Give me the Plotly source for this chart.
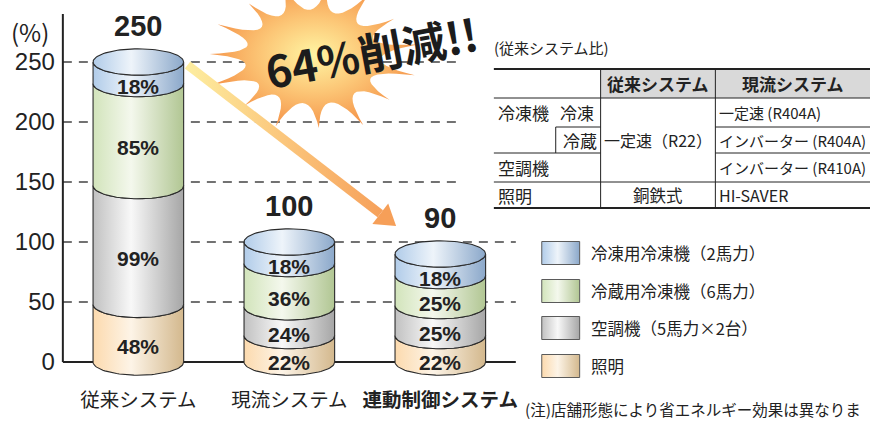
import numpy as np
import plotly.graph_objects as go

W, H = 872, 423

# ---------------- data ----------------
categories = ["従来システム", "現流システム", "<b>連動制御システム</b>"]
lighting = [48, 22, 22]            # 照明
aircon = [99, 24, 25]              # 空調機（5馬力×2台）
refrigeration = [85, 36, 25]       # 冷蔵用冷凍機（6馬力）
freezer = [18, 18, 18]             # 冷凍用冷凍機（2馬力）
totals = [a + b + c + d for a, b, c, d in zip(lighting, aircon, refrigeration, freezer)]
y_ticks = [0, 50, 100, 150, 200, 250]
y_tick_text = ["0", "50", "100", "150", "200", "250"]

legend_names = ["冷凍用冷凍機（2馬力）", "冷蔵用冷凍機（6馬力）", "空調機（5馬力×2台）", "照明"]
burst_text = "64%削減!!"
table_caption = "(従来システム比)"
table_header = ["従来システム", "現流システム"]
table_rows_left = ["冷凍機", "冷凍", "冷蔵", "空調機", "照明"]
table_old = ["一定速（R22）", "銅鉄式"]
table_new = ["一定速 (R404A)", "インバーター (R404A)", "インバーター (R410A)", "HI-SAVER"]
note_text = "(注)店舗形態により省エネルギー効果は異なりま"

# ---------------- styling ----------------
C_BLUE = ("#b1cce9", "#eef4fa", "#8ba8ca")
C_GREEN = ("#d2e4bb", "#f4f8ed", "#b1c693")
C_GRAY = ("#c1c1c1", "#f8f8f8", "#a6a6a6")
C_ORANGE = ("#fcdaae", "#fdf4e7", "#d3b88d")
stack = [(lighting, C_ORANGE), (aircon, C_GRAY), (refrigeration, C_GREEN), (freezer, C_BLUE)]
legend_colors = [C_BLUE, C_GREEN, C_GRAY, C_ORANGE]

JP = "Noto Sans CJK JP"
NUM = "Liberation Sans"
INK = "#222222"

Y0, Y1 = -20, 290
x_dom = [63 / W, 517 / W]
y_dom = [(H - 386) / H, (H - 14) / H]
HALF_W = 0.30      # half bar width in category units
RY = 11.0          # ellipse half-height in value units
N_ARC = 48


def hgrad(c):
    return dict(type="horizontal", colorscale=[[0, c[0]], [0.42, c[1]], [1, c[2]]])


def lower_arc(cx, level):
    th = np.linspace(0, np.pi, N_ARC)
    return cx - HALF_W * np.cos(th), level - RY * np.sin(th)


fig = go.Figure()
annotations = []

for i in range(len(categories)):
    base = 0
    for vals, col in stack:
        v = vals[i]
        tx, ty = lower_arc(i, base + v)
        bx, by = lower_arc(i, base)
        xs = np.concatenate([tx, bx[::-1], tx[:1]])
        ys = np.concatenate([ty, by[::-1], ty[:1]])
        fig.add_trace(go.Scatter(x=xs, y=ys, mode="lines", fill="toself",
                                 fillgradient=hgrad(col),
                                 line=dict(color="#2a2a2a", width=1.1),
                                 hoverinfo="skip", showlegend=False))
        annotations.append(dict(x=i, y=base + v / 2 - RY, xref="x", yref="y",
                                text=f"<b>{v}%</b>", showarrow=False,
                                font=dict(family=NUM, size=21, color=INK)))
        base += v
    th = np.linspace(0, 2 * np.pi, 2 * N_ARC)
    fig.add_trace(go.Scatter(x=i + HALF_W * np.cos(th), y=totals[i] + RY * np.sin(th),
                             mode="lines", fill="toself", fillgradient=hgrad(C_BLUE),
                             line=dict(color="#2a2a2a", width=1.1),
                             hoverinfo="skip", showlegend=False))
    annotations.append(dict(x=i, y=totals[i] + RY + 19, xref="x", yref="y",
                            text=f"<b>{totals[i]}</b>", showarrow=False,
                            font=dict(family=NUM, size=29, color=INK)))

# ---------------- burst (pixel overlay, decoration) ----------------
bcx, bcy, brx, bry = 313, 57, 106, 74
spike_f = [1.0, 0.93, 1.04, 0.96, 1.0, 0.92, 1.03, 0.97, 1.0, 0.94, 1.05, 0.95, 1.0, 0.93, 1.02]
n_sp = len(spike_f)
off = 0.25
tips = [(bcx + brx * f * np.cos(off + 2 * np.pi * k / n_sp),
         bcy + bry * f * np.sin(off + 2 * np.pi * k / n_sp)) for k, f in enumerate(spike_f)]
bx_, by_ = [], []
for k in range(n_sp):
    p0 = np.array(tips[k]); p2 = np.array(tips[(k + 1) % n_sp])
    am = off + 2 * np.pi * (k + 0.5) / n_sp
    ctrl = np.array([bcx + brx * 0.3 * np.cos(am), bcy + bry * 0.3 * np.sin(am)])
    for t in np.linspace(0, 1, 14, endpoint=False):
        p = (1 - t) ** 2 * p0 + 2 * (1 - t) * t * ctrl + t ** 2 * p2
        bx_.append(p[0]); by_.append(p[1])
bx_.append(bx_[0]); by_.append(by_[0])
fig.add_trace(go.Scatter(x=bx_, y=by_, xaxis="x2", yaxis="y2", mode="lines", fill="toself",
                         fillgradient=dict(type="radial",
                                           colorscale=[[0, "#fff5a3"], [0.5, "#fcc777"], [1, "#f5964b"]]),
                         line=dict(width=0, color="rgba(0,0,0,0)"),
                         hoverinfo="skip", showlegend=False))

# ---------------- arrow (pixel overlay, decoration) ----------------
s = np.array([188.0, 65.0]); tip = np.array([397.0, 226.0])
d = (tip - s) / np.linalg.norm(tip - s); nrm = np.array([-d[1], d[0]])
neck = tip - 20 * d
hw = 4.5
shaft = [s + hw * nrm, neck + hw * nrm, neck - hw * nrm, s - hw * nrm, s + hw * nrm]
fig.add_trace(go.Scatter(x=[p[0] for p in shaft], y=[p[1] for p in shaft], xaxis="x2", yaxis="y2",
                         mode="lines", fill="toself",
                         fillgradient=dict(type="horizontal",
                                           colorscale=[[0, "#fdeea0"], [0.5, "#fbc67c"], [1, "#f6a05a"]]),
                         line=dict(width=0, color="rgba(0,0,0,0)"), hoverinfo="skip", showlegend=False))
head = [tip, neck + 13 * nrm, neck - 13 * nrm, tip]
fig.add_trace(go.Scatter(x=[p[0] for p in head], y=[p[1] for p in head], xaxis="x2", yaxis="y2",
                         mode="lines", fill="toself", fillcolor="#f69f58",
                         line=dict(width=0, color="rgba(0,0,0,0)"), hoverinfo="skip", showlegend=False))

# ---------------- legend (pixel overlay) ----------------
leg_y = [253, 291, 328, 366]
for name, col, yc in zip(legend_names, legend_colors, leg_y):
    x0, x1, y0, y1 = 543, 581, yc - 11.5, yc + 11.5
    fig.add_trace(go.Scatter(x=[x0, x1, x1, x0, x0], y=[y0, y0, y1, y1, y0], xaxis="x2", yaxis="y2",
                             mode="lines", fill="toself", fillgradient=hgrad(col),
                             line=dict(color="#5a5a5a", width=1), hoverinfo="skip", showlegend=False))
    annotations.append(dict(x=590, y=yc, xref="x2", yref="y2", text=name, showarrow=False,
                            xanchor="left", font=dict(family=JP, size=16.5, color=INK)))

# ---------------- shapes ----------------
shapes = []
for v in y_ticks[1:]:
    shapes.append(dict(type="line", xref="x domain", yref="y", x0=0, x1=1, y0=v, y1=v,
                       line=dict(color="#444", width=1.3, dash="9px,7px"), layer="below"))
shapes.append(dict(type="line", xref="x domain", yref="y", x0=0, x1=1, y0=0, y1=0,
                   line=dict(color=INK, width=2), layer="below"))
shapes.append(dict(type="line", xref="x domain", yref="y", x0=0, x1=0, y0=0, y1=Y1,
                   line=dict(color=INK, width=2), layer="below"))
# white panel behind table
shapes.append(dict(type="rect", xref="x2", yref="y2", x0=458, x1=872, y0=36, y1=200,
                   fillcolor="white", line=dict(width=0), layer="below"))

# table
TL, TR, C1, C2, SUB = 495, 872, 602, 717, 557
rows = [69, 98, 127, 153, 182, 208]
shapes.append(dict(type="rect", xref="x2", yref="y2", x0=C1, x1=TR, y0=rows[0], y1=rows[1],
                   fillcolor="#d9d9d9", line=dict(width=0), layer="above"))


def hline(x0, x1, y, w=1.0):
    shapes.append(dict(type="line", xref="x2", yref="y2", x0=x0, x1=x1, y0=y, y1=y,
                       line=dict(color="#222", width=w), layer="above"))


def vline(x, y0, y1, w=1.0):
    shapes.append(dict(type="line", xref="x2", yref="y2", x0=x, x1=x, y0=y0, y1=y1,
                       line=dict(color="#222", width=w), layer="above"))


hline(TL, TR, rows[0], 2)
hline(TL, TR, rows[1])
hline(SUB, C1, rows[2]); hline(C2, TR, rows[2])
hline(TL, C1, rows[3]); hline(C2, TR, rows[3])
hline(TL, TR, rows[4])
hline(TL, TR, rows[5], 2)
vline(C1, rows[0], rows[5]); vline(C2, rows[0], rows[5])
vline(SUB, rows[2], rows[3])


def tcell(x, y, text, anchor="left", bold=False, size=16.5):
    annotations.append(dict(x=x, y=y, xref="x2", yref="y2", text=f"<b>{text}</b>" if bold else text,
                            showarrow=False, xanchor=anchor,
                            font=dict(family=JP, size=size, color=INK)))


mid = lambda r: (rows[r] + rows[r + 1]) / 2
tcell(493, 47, table_caption, size=15)
tcell((C1 + C2) / 2, mid(0), table_header[0], "center", True, 17)
tcell((C2 + TR) / 2, mid(0), table_header[1], "center", True, 17)
tcell(497, mid(1), table_rows_left[0], size=17)
tcell(559, mid(1), table_rows_left[1], size=17)
tcell(600, mid(2), table_rows_left[2], "right", size=17)
tcell(497, mid(3), table_rows_left[3], size=17)
tcell(497, mid(4), table_rows_left[4], size=17)
tcell((C1 + C2) / 2, mid(2), table_old[0], "center", size=16)
tcell((C1 + C2) / 2, mid(4), table_old[1], "center", size=16.5)
tcell(719, mid(1), table_new[0], size=15)
tcell(719, mid(2), table_new[1], size=15)
tcell(719, mid(3), table_new[2], size=15)
tcell(719, mid(4), table_new[3], size=16)

# other texts
annotations.append(dict(x=30, y=31, xref="x2", yref="y2", text="(%)", showarrow=False,
                        font=dict(family=JP, size=24, color=INK)))
annotations.append(dict(x=372, y=51, xref="x2", yref="y2", text=f"<b>{burst_text}</b>",
                        showarrow=False, textangle=-10.5,
                        font=dict(family=JP, size=44, color="#1c1c1c")))
annotations.append(dict(x=524, y=409, xref="x2", yref="y2", text=note_text, showarrow=False,
                        xanchor="left", font=dict(family=JP, size=15.5, color=INK)))

fig.update_layout(
    width=W, height=H, margin=dict(l=0, r=0, t=0, b=0),
    paper_bgcolor="white", plot_bgcolor="rgba(0,0,0,0)",
    font=dict(family=JP, color=INK),
    showlegend=False,
    xaxis=dict(domain=x_dom, range=[-0.5, 2.5], tickvals=[0, 1, 2], ticktext=categories,
               showgrid=False, zeroline=False, showline=False, ticks="",
               tickfont=dict(family=JP, size=19.5, color=INK), fixedrange=True),
    yaxis=dict(domain=y_dom, range=[Y0, Y1], tickvals=y_ticks, ticktext=y_tick_text,
               showgrid=False, zeroline=False, showline=False, ticks="", ticklabelstandoff=7,
               tickfont=dict(family=NUM, size=24, color=INK), fixedrange=True),
    xaxis2=dict(domain=[0, 1], range=[0, W], visible=False, anchor="y2", fixedrange=True),
    yaxis2=dict(domain=[0, 1], range=[H, 0], visible=False, anchor="x2", fixedrange=True),
    shapes=shapes, annotations=annotations,
)

fig.write_html("out.html", config={"displayModeBar": False},
               post_script="document.body.style.margin='0px';")
